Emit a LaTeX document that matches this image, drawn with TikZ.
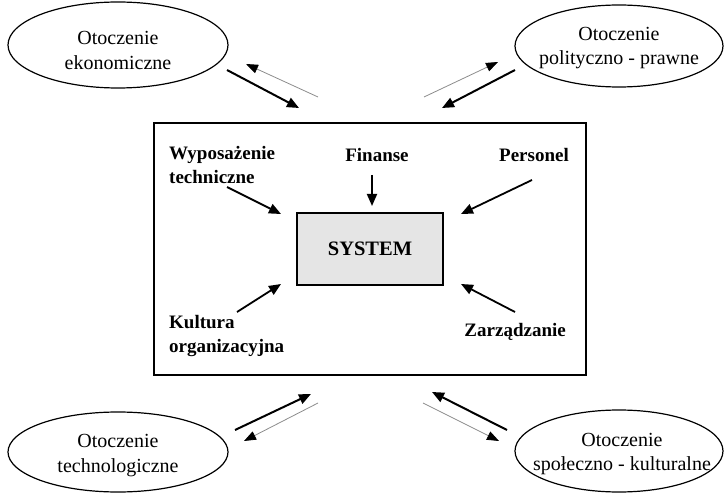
\documentclass[tikz,border=0pt]{standalone}
\usepackage{fontspec}
\setmainfont{Liberation Serif}
\usetikzlibrary{shapes.geometric,arrows.meta}
\tikzset{
  env/.style={draw, ellipse, line width=1.2pt, inner sep=0pt},
  envtext/.style={align=center, inner sep=0pt, font=\fontsize{20}{24.5}\selectfont},
  lbl/.style={font=\fontsize{19}{24.5}\selectfont\bfseries, inner sep=0pt},
  inarrow/.style={line width=1.8pt, -{Triangle[length=12pt,width=10pt]}},
  outarrow/.style={line width=2pt, -{Triangle[length=12pt,width=10pt]}},
  backarrow/.style={line width=0.8pt, draw=black!45, -{Triangle[length=12pt,width=9pt,color=black]}},
}
\begin{document}
\begin{tikzpicture}[x=1pt,y=-1pt]
\useasboundingbox (0,0) rectangle (725,494);
% environment ellipses
\node[env, minimum width=220pt, minimum height=86pt] (eko) at (118,45) {};
\node[envtext] (ekoT) at (118,50.5) {Otoczenie\\ekonomiczne};
\node[env, minimum width=208pt, minimum height=82pt] (pol) at (619,46) {};
\node[envtext] (polT) at (619,48) {Otoczenie\\polityczno - prawne};
\node[env, minimum width=220pt, minimum height=80pt] (tech) at (118,452) {};
\node[envtext] (techT) at (118,455.5) {Otoczenie\\technologiczne};
\node[env, minimum width=208pt, minimum height=82pt] (spo) at (619,451) {};
\node[envtext] (spoT) at (622,454) {Otoczenie\\społeczno - kulturalne};
% main frame
\node[draw, line width=2.6pt, minimum width=432pt, minimum height=252pt, inner sep=0pt] (frame) at (370,249) {};
% system box
\node[draw, line width=1.8pt, fill=black!10, minimum width=146pt, minimum height=72pt,
  font=\fontsize{20.5}{24}\selectfont\bfseries] (sys) at (370,249) {SYSTEM};
% labels
\node[lbl, anchor=west, align=left] (wyp) at (169,165) {Wyposażenie\\techniczne};
\node[lbl] (fin) at (377,155) {Finanse};
\node[lbl, anchor=east] (per) at (569,155) {Personel};
\node[lbl, anchor=west, align=left] (kul) at (169,336) {Kultura\\organizacyjna};
\node[lbl, anchor=east] (zar) at (566,332) {Zarządzanie};
% inner arrow coordinates
\coordinate (wypS) at (227,187); \coordinate (wypE) at (281,214);
\coordinate (finS) at (372,175); \coordinate (finE) at (372,206);
\coordinate (perS) at (532,180); \coordinate (perE) at (461,214);
\coordinate (kulS) at (237,312); \coordinate (kulE) at (281,284);
\coordinate (zarS) at (515,312); \coordinate (zarE) at (461,284);
\draw[inarrow] (wypS) -- (wypE);
\draw[inarrow] (finS) -- (finE);
\draw[inarrow] (perS) -- (perE);
\draw[inarrow] (kulS) -- (kulE);
\draw[inarrow] (zarS) -- (zarE);
% outer arrows
\coordinate (ekoA) at (227,70); \coordinate (ekoB) at (299,108);
\coordinate (ekoC) at (318,97); \coordinate (ekoD) at (246,64);
\draw[outarrow] (ekoA) -- (ekoB);
\draw[backarrow] (ekoC) -- (ekoD);
\coordinate (polA) at (515,70); \coordinate (polB) at (442,108);
\coordinate (polC) at (424,97); \coordinate (polD) at (498,62);
\draw[outarrow] (polA) -- (polB);
\draw[backarrow] (polC) -- (polD);
\coordinate (techA) at (235,430); \coordinate (techB) at (311,394);
\coordinate (techC) at (318,403); \coordinate (techD) at (244,441);
\draw[outarrow] (techA) -- (techB);
\draw[backarrow] (techC) -- (techD);
\coordinate (spoA) at (507,430); \coordinate (spoB) at (432,392);
\coordinate (spoC) at (423,403); \coordinate (spoD) at (499,441);
\draw[outarrow] (spoA) -- (spoB);
\draw[backarrow] (spoC) -- (spoD);
\end{tikzpicture}
\end{document}
